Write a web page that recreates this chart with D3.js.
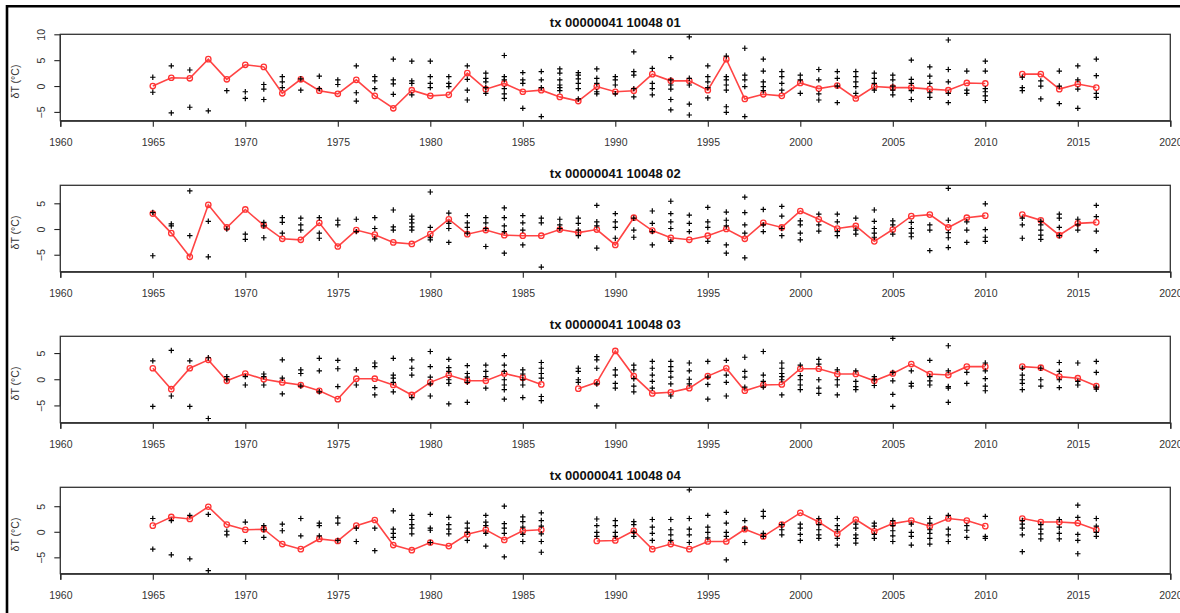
<!DOCTYPE html>
<html>
<head>
<meta charset="utf-8">
<script src="https://cdn.jsdelivr.net/npm/d3@7"></script>
<style>
html,body{margin:0;padding:0;background:#fff;}
svg{display:block;font-family:"Liberation Sans",Arial,Helvetica,sans-serif;}
</style>
</head>
<body>
<svg id="chart" width="1180" height="613"></svg>
<script>
// ---------------- data ----------------
const years = d3.range(1965, 2017);
const titles = ["tx 00000041 10048 01", "tx 00000041 10048 02", "tx 00000041 10048 03", "tx 00000041 10048 04"];
const xTicks = [1960, 1965, 1970, 1975, 1980, 1985, 1990, 1995, 2000, 2005, 2010, 2015, 2020];
const xDomain = [1960, 2020];
const yDomains = [[-6.7, 10], [-8.3, 8.5], [-8.3, 8.2], [-8.2, 8.7]];
const yTicks = [[-5, 0, 5, 10], [-5, 0, 5], [-5, 0, 5], [-5, 0, 5]];
const yLabel = "δT (°C)";

// yearly series (red), 1965..2016, null = missing
const series1 = [0, 1.6, 1.5, 5.2, 1.3, 4.1, 3.7, -1.4, 1.3, -0.9, -1.5, 1.2, -1.9,
  -4.3, -0.8, -1.9, -1.7, 2.5, -0.6, 0.5, -1.1, -0.8, -2.1, -2.9, -0.1,
  -1.1, -0.9, 2.3, 1.0, 1.0, -0.8, 5.2, -2.5, -1.6, -1.9,
  0.6, -0.5, 0.1, -2.4, -0.1, -0.3, -0.3, -0.6, -0.8, 0.6, 0.5,
  null, 2.3, 2.3, -0.6, 0.4, -0.3];
const series2 = [3.0, -0.8, -5.4, 4.7, 0.3, 3.8, 0.7, -1.9, -2.1, 1.2, -3.4, -0.2, -1.1,
  -2.6, -2.9, -1.0, 1.9, -1.0, -0.2, -1.2, -1.3, -1.3, -0.1, -0.7, -0.1,
  -3.1, 2.2, -0.3, -1.7, -2.1, -1.3, 0, -1.9, 1.2, 0.3,
  3.5, 1.9, 0.1, 0.6, -2.4, -0.1, 2.5, 2.8, 0.3, 2.2, 2.6,
  null, 2.8, 1.7, -1.2, 1.1, 1.3];
const series3 = [2.1, -1.9, 2.1, 3.7, -0.3, 1.1, 0, -0.6, -1.1, -2.2, -3.8, 0.1, 0.1,
  -1.1, -3.0, -0.6, 0.8, -0.3, -0.3, 1.1, 0.3, -1.0, null, -1.8, -0.6,
  5.4, 0.6, -2.7, -2.5, -1.7, 0.6, 2.1, -2.2, -1.1, -1.0,
  2.0, 2.0, 1.0, 1.0, -0.3, 1.1, 2.9, 1.0, 0.8, 2.4, 2.4,
  null, 2.4, 2.2, 0.5, 0.2, -1.3];
const series4 = [1.2, 2.9, 2.5, 4.9, 1.4, 0.4, 0.5, -2.4, -3.4, -1.4, -1.8, 1.2, 2.3,
  -2.6, -3.6, -2.1, -2.8, -0.5, 0.4, -1.6, 0.2, 0.4, null, null, -1.8,
  -1.7, 0.2, -3.4, -2.4, -3.4, -1.9, -1.9, 0.5, -0.9, 1.4,
  3.7, 1.9, -0.4, 2.4, 0.1, 1.6, 2.2, 1.1, 2.6, 2.2, 1.1,
  null, 2.6, 1.9, 1.9, 1.7, 0.4];

// individual values (black +), one list per year 1965..2016
const points1 = [[1.7,-1.2],[3.9,-5.2],[3.1,-4.1],[-4.8],[-0.9],[-1.1,-2.4],[0.3,-0.6,-2.6],[1.8,0.8,-0.3],[1.4,-0.8],[1.9,-0.5],[1.2,0.3],[3.9,-1.3,-2.9],[1.8,1.0,-0.5],
  [5.2,1.2,0.4,-1.6],[4.8,1.0,0.5,-1.7],[4.8,1.8,0.5,-0.3],[1.8,0.5,-0.1],[3.9,1.3,-0.8,-2.7],[2.5,1.5,0.8,-0.3,-1.4],[5.9,1.8,1.2,-0.5,-1.5,-2.4],[2.6,1.2,0.5,-4.3],[2.8,1.2,-0.3,-5.9],[3.3,2.5,1.2,0.2,-0.3,-0.9],[2.6,2.1,1.4,0.5,-0.5,-2.5],[3.3,1.5,0.5,-1.1,-1.5],
  [1.8,1.2,0.2,-1.5],[6.6,2.8,2.1,-0.5,-2.1],[3.4,0.5,-0.5,-1.7],[5.5,1.2,0.2,-0.6,-2.6,-4.6],[9.5,1.5,0.2,-3.5,-5.6],[3.9,1.8,0.8,-0.3,-2.3],[5.8,1.8,1.2,0.2,-0.8,-4.0,-5.1],[7.3,2.1,1.2,-0.1,-5.9],[5.2,2.9,0.8,-0.1,-0.9],[2.8,1.8,0.5,-0.8],
  [2.1,1.2,-1.4],[3.2,1.2,-1.5,-2.7],[2.8,1.5,0,-3.2],[2.8,1.8,0.8,-0.1,-1.4],[2.5,1.5,0.5,-0.8],[2.1,1.2,0,-0.8,-1.7],[5.0,1.3,0.5,-0.9,-2.6],[3.7,1.9,0.5,-1.3,-2.2],[8.9,3.2,0.8,-1.4,-3.2],[2.9,-0.8,-1.4],[4.8,2.9,-0.5,-1.1,-1.9,-2.8],
  [],[1.7,-0.3,-0.9],[1.0,0,-2.5],[2.9,0,-3.4],[3.9,1.2,-0.6,-4.3],[5.2,2.0,-1.4,-2.2]];
const points2 = [[3.2,-5.2],[1.0,0.6],[7.4,-1.3],[1.5,-5.4],[0],[-1.0,-2.0],[1.3,0.6,-1.7],[2.2,1.3,-0.8],[2.1,0.8,-0.2],[2.2,-0.8,-1.8],[1.7,0.8],[1.9,-0.5],[2.2,0.1,-1.9],
  [3.7,0.4,-0.2],[2.5,1.9,1.2,0.4,-0.2],[7.2,0.3,-1.7,-2.1],[3.1,1.1,0.1,-2.6],[2.6,1.2,0.3,-0.8],[2.2,1.2,0.1,-3.4],[4.1,2.2,0.6,-0.5,-4.7],[2.6,1.2,-0.2,-3.1],[2.1,1.2,-7.4],[1.9,0.8,0.1],[2.1,1.1,-0.2,-1.3],[4.6,1.4,0.6,-3.7],
  [3.0,1.4,0.3,-1.8],[2.1,-0.2,-1.6],[3.5,1.1,-0.5,-3.1],[5.4,3.0,1.4,0.1,-2.4],[2.7,1.1,-0.5],[4.2,1.4,0.3,-2.4],[3.3,1.7,0.6,-3.1,-4.7],[6.2,3.2,0.8,-0.8,-5.6],[3.8,0.8,-0.5],[4.4,2.5,0.1,-1.3],
  [1.6,0.8,-0.8,-2.1],[2.9,0.8,-0.4],[2.9,1.4,-0.5,-1.3],[2.1,-0.2,-1.0],[3.7,1.5,0.1,-0.8,-1.6],[1.6,0.8,-1.0],[1.3,0.1,-0.8,-1.5],[0.8,-0.2,-4.2],[7.9,1.7,-0.7,-1.7,-3.6],[1.4,-0.2,-2.6],[4.9,-0.1,-1.6,-2.4],
  [],[2.1,0.8,-1.8],[1.5,0.8,-0.2,-1.2,-2.0],[2.9,2.1,0.3,-1.3],[1.9,0.8,-0.2],[4.6,2.4,-0.4,-4.2]];
const points3 = [[3.5,-5.2],[5.5,-3.2],[3.5,-5.2],[4.1,-7.5],[0.5,-0.1],[0.5,-1.1],[1.0,0.5,-1.1],[3.7,0.2,-2.8],[1.8,1.1,-1.3],[4.0,1.6,-2.4],[3.6,2.0,-1.4],[1.8,-1.1],[3.1,2.4,-1.6,-3.0],
  [4.0,0.8,0.2,-0.6,-2.4],[3.7,2.1,0.8,-3.5],[5.3,2.4,0.4,-0.9,-3.2],[3.8,2.2,1.5,-0.1,-0.8,-4.7],[2.6,1.1,0.4,-0.6,-4.4],[2.7,1.5,0.5,-1.7],[4.5,2.7,1.5,-0.1,-1.1,-2.0,-3.8],[1.8,1.0,-0.1,-1.1,-3.5],[3.2,2.1,1.1,0.2,-3.3,-4.1],[],[2.1,1.5,-0.1,-0.6],[4.3,3.7,2.1,-0.9,-5.1],
  [1.8,0.8,-0.8,-1.7],[2.7,1.8,0.1,-1.3,-2.4],[3.4,2.1,0.8,-0.4,-1.7],[3.4,2.4,1.5,0.4,-0.9,-3.2],[3.1,1.6,0,-0.9],[3.4,0.4,-1.0,-3.8],[3.6,0.8,-0.6,-3.2],[4.2,1.5,0.4,-1.5],[5.3,0.8,-0.4,-1.5],[3.1,2.1,1.1,0.5,-0.1,-3.0],
  [2.7,0.7,-0.1,-1.1,-2.0],[3.8,2.9,-0.1,-1.7,-2.7],[1.8,-0.1,-1.1,-3.0],[1.6,-0.4,-1.4,-2.0],[0.5,-0.1,-1.2],[7.8,1.3,-0.3,-2.9,-5.2],[1.6,-0.8,-1.3],[3.6,0.5,-0.3,-1.1],[6.4,1.6,-1.4,-1.7,-4.4],[1.3,-0.8],[3.1,1.6,0.1,-1.3,-2.2],
  [],[2.1,0.8,-0.1,-0.8,-2.0],[2.1,-0.1,-1.3],[3.2,1.5,-0.1,-1.6],[3.1,-0.4,-1.1],[3.4,1.3,-1.5,-1.9]];
const points4 = [[2.6,-3.4],[2.2,-4.5],[3.2,-5.3],[3.4,-7.6],[0.1,-0.6],[1.9,-1.9],[1.2,0.4,-1.1],[1.5,0.2],[2.6,-0.8],[1.7,1.2,-0.8],[2.7,1.7,-1.7],[0.7,-1.9],[0.7,-3.7],
  [4.1,0.5,-0.3,-1.1],[3.2,2.4,1.4,0.7,-0.4],[3.4,0.7,0.3,-2.1],[2.8,1.4,0.5,-0.4],[1.7,0.7,-0.1,-1.7],[3.2,1.9,1.2,-0.3,-2.8],[5.0,1.6,0.7,-0.3,-4.9],[2.9,2.0,0.9,-0.5,-1.9],[3.7,2.2,1.1,-0.4,-1.9,-4.0],[],[],[2.5,1.2,-0.1,-0.9],
  [2.2,1.2,-0.1,-0.9],[2.0,1.4,-0.1,-0.9],[2.4,0.9,-0.3,-1.7],[2.4,0.4,-0.6,-1.7],[8.2,2.6,0.5,-0.6,-2.1],[3.2,0.9,-0.1,-1.2],[3.8,1.7,-0.1,-0.9,-5.5],[2.2,0.7,-2.1],[4.0,3.0,-0.3,-0.9],[1.4,0.4,-0.6],
  [1.5,0.7,-0.5,-1.7],[2.6,1.4,0.4,-0.6,-1.3],[2.6,1.2,0.4,-1.3,-2.6],[1.5,0.7,-0.6,-1.3,-2.2],[1.7,1.1,-0.5,-1.3],[2.2,1.2,0.2,-0.8,-1.9],[1.5,-0.1,-0.9,-2.6],[2.6,1.7,0.4,-0.3,-1.3,-2.4],[3.2,0.5,-0.6,-1.9],[1.2,0.3,-1.1],[3.0,-0.9,-1.3],
  [],[2.2,1.5,0.7,-0.6,-3.9],[1.4,0.5,-0.4,-1.4],[2.4,0.9,-0.3,-1.4],[5.2,2.8,-0.5,-1.7,-4.3],[2.6,1.1,-0.1,-0.9]];

const seriesList = [series1, series2, series3, series4];
const pointsList = [points1, points2, points3, points4];

// ---------------- layout ----------------
const svg = d3.select("#chart");
const plotLeft = 60.3, plotRight = 1170.3;
const panelTop0 = 34.3, panelStep = 151, boxH = 86.4;

// outer frame
svg.append("path")
  .attr("d", "M7,613 V6.3 H1180")
  .attr("fill", "none").attr("stroke", "#000").attr("stroke-width", 2.6);

const x = d3.scaleLinear().domain(xDomain).range([plotLeft, plotRight]);

for (let p = 0; p < 4; p++) {
  const top = panelTop0 + p * panelStep;
  const y = d3.scaleLinear().domain(yDomains[p]).range([top + boxH, top]);
  const g = svg.append("g");

  // title
  g.append("text")
    .attr("x", (plotLeft + plotRight) / 2).attr("y", top - 7)
    .attr("text-anchor", "middle").attr("font-weight", "bold")
    .attr("font-size", 13).attr("fill", "#111")
    .text(titles[p]);

  // x axis
  const xa = g.append("g").attr("transform", `translate(0,${top + boxH})`)
    .call(d3.axisBottom(x).tickValues(xTicks).tickFormat(d3.format("d")).tickSize(6).tickPadding(12));
  xa.select(".domain").attr("stroke", "#222").attr("stroke-width", 1.2);
  xa.selectAll(".tick line").attr("stroke", "#222").attr("stroke-width", 1.1);
  xa.selectAll(".tick text").attr("font-size", 10.5).attr("fill", "#333")
    .attr("font-family", "Liberation Sans, Arial, sans-serif");

  // y axis
  const ya = g.append("g").attr("transform", `translate(${plotLeft},0)`)
    .call(d3.axisLeft(y).tickValues(yTicks[p]).tickFormat(d => d < 0 ? "\u2212" + Math.abs(d) : d).tickSize(6));
  ya.select(".domain").remove();
  ya.append("line").attr("x1", 0).attr("x2", 0)
    .attr("y1", y(yTicks[p][0])).attr("y2", y(yTicks[p][yTicks[p].length - 1]))
    .attr("stroke", "#222").attr("stroke-width", 1.2);
  ya.selectAll(".tick line").attr("stroke", "#222").attr("stroke-width", 1.1);
  ya.selectAll(".tick text")
    .attr("font-size", 10.5).attr("fill", "#333")
    .attr("font-family", "Liberation Sans, Arial, sans-serif")
    .attr("x", null).attr("dy", null)
    .attr("text-anchor", "middle")
    .attr("transform", "translate(-15.5,0) rotate(-90)");

  // y label
  g.append("text")
    .attr("transform", `translate(18.5,${top + boxH / 2 + 4}) rotate(-90)`)
    .attr("text-anchor", "middle").attr("font-size", 10.5).attr("fill", "#333")
    .text(yLabel);

  // box
  g.append("rect")
    .attr("x", plotLeft).attr("y", top)
    .attr("width", plotRight - plotLeft).attr("height", boxH)
    .attr("fill", "none").attr("stroke", "#333").attr("stroke-width", 1.3);

  // red line + open circles
  const data = years.map((yr, i) => ({ year: yr, v: seriesList[p][i] }));
  const line = d3.line().defined(d => d.v !== null).x(d => x(d.year)).y(d => y(d.v));
  g.append("path").datum(data).attr("d", line)
    .attr("fill", "none").attr("stroke", "#ff4444").attr("stroke-width", 1.6);
  g.selectAll("circle.red").data(data.filter(d => d.v !== null)).enter()
    .append("circle").attr("class", "red")
    .attr("cx", d => x(d.year)).attr("cy", d => y(d.v)).attr("r", 2.7)
    .attr("fill", "none").attr("stroke", "#ff3333").attr("stroke-width", 1.3);

  // black + points
  const pts = [];
  years.forEach((yr, i) => pointsList[p][i].forEach(v => pts.push({ year: yr, v })));
  g.selectAll("path.plus").data(pts).enter()
    .append("path").attr("class", "plus")
    .attr("d", d => { const cx = x(d.year), cy = y(d.v), h = 2.7;
      return `M${cx - h},${cy}H${cx + h}M${cx},${cy - h}V${cy + h}`; })
    .attr("stroke", "#000").attr("stroke-width", 1.2).attr("fill", "none");
}
</script>
</body>
</html>
